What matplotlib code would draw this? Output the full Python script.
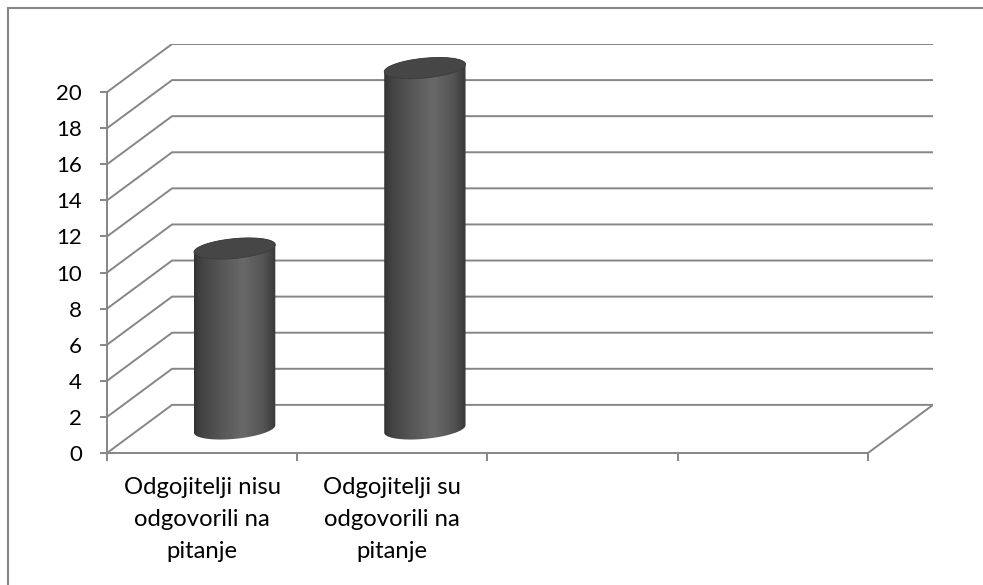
import numpy as np
import matplotlib
matplotlib.use("Agg")
import matplotlib.pyplot as plt
from matplotlib.path import Path
from matplotlib.patches import PathPatch, Rectangle

# ---- data ----
categories = [
    "Odgojitelji nisu\nodgovorili na\npitanje",
    "Odgojitelji su\nodgovorili na\npitanje",
    "",
    "",
]
values = [10, 20, np.nan, np.nan]
y_ticks = list(range(0, 21, 2))

# ---- style ----
GRID = "#868686"
plt.rcParams["font.family"] = ["Lato", "DejaVu Sans"]

W, H = 983, 585
fig = plt.figure(figsize=(W / 100, H / 100), dpi=100)

n = len(categories)
DX = 0.342   # oblique depth offset, category units
DY = 2.667   # oblique depth offset, value units
ymax = y_ticks[-1]

ax = fig.add_axes([107 / W, (H - 453) / H, (933 - 107) / W, (453 - 44) / H])
ax.set_facecolor("none")

# walls: side-wall diagonals + back-wall gridlines
for v in y_ticks:
    ax.plot([0, DX, n + DX], [v, v + DY, v + DY], color=GRID, lw=1.4,
            solid_joinstyle="miter", solid_capstyle="butt", zorder=1)
# right edge of the floor
ax.plot([n, n + DX], [0, DY], color=GRID, lw=1.4, zorder=1)


def cylinder(ax, xc, value, r=0.2, e=0.22):
    """3-D cylinder with oblique projection, centred at mid-depth."""
    cx = xc + DX / 2
    base = DY / 2
    top = value + DY / 2
    ex, ey = e * DX, e * DY
    th0 = np.arctan2(ex, r)
    half_w = np.hypot(r, ex)

    def ell(cy, t):
        return cx + r * np.cos(t) + ex * np.sin(t), cy + ey * np.sin(t)

    tb = np.linspace(th0 + np.pi, th0 + 2 * np.pi, 120)
    tt = np.linspace(th0, th0 + np.pi, 120)
    bx, by = ell(base, tb)
    tx, ty = ell(top, tt)
    xs = np.concatenate([bx, tx])
    ys = np.concatenate([by, ty])
    verts = np.column_stack([xs, ys])
    side = PathPatch(Path(np.vstack([verts, verts[:1]]), closed=True),
                     facecolor="none", edgecolor="none", zorder=3)
    ax.add_patch(side)

    # horizontal shading across the cylinder body
    u = np.linspace(0, 1, 256)
    g = np.interp(u, [0, 0.06, 0.3, 0.6, 0.85, 0.96, 1.0],
                  [0.20, 0.25, 0.33, 0.41, 0.33, 0.25, 0.22])
    img = np.repeat(g[None, :], 2, axis=0)
    im = ax.imshow(img, cmap="gray", vmin=0, vmax=1, aspect="auto",
                   extent=[cx - half_w, cx + half_w, base - ey * 1.2, top + ey * 1.2],
                   origin="lower", interpolation="bilinear", zorder=3)
    im.set_clip_path(side)

    # top cap
    t = np.linspace(0, 2 * np.pi, 200)
    cxs, cys = ell(top, t)
    cap_verts = np.column_stack([cxs, cys])
    ax.add_patch(PathPatch(Path(cap_verts, closed=True), facecolor="#464646",
                           edgecolor="#3c3c3c", lw=0.6, zorder=4))


for i, v in enumerate(values):
    if np.isfinite(v):
        cylinder(ax, i + 0.5, v)

ax.set_xlim(0, n + DX)
ax.set_ylim(0, ymax + DY)

# front axes
for s in ["top", "right"]:
    ax.spines[s].set_visible(False)
ax.spines["left"].set_bounds(0, ymax)
ax.spines["bottom"].set_bounds(0, n)
for s in ["left", "bottom"]:
    ax.spines[s].set_color(GRID)
    ax.spines[s].set_linewidth(1.4)
    ax.spines[s].set_zorder(2)

ax.set_yticks(y_ticks)
ax.set_yticklabels([str(t) for t in y_ticks])
ax.tick_params(axis="y", direction="out", length=5, width=1.4, color=GRID,
               pad=13, labelsize=16, labelcolor="black")

ax.set_xticks(range(n + 1))
ax.set_xticklabels([""] * (n + 1))
ax.tick_params(axis="x", which="major", direction="out", length=5.5, width=1.4,
               color=GRID)
ax.set_xticks([i + 0.5 for i in range(n)], minor=True)
ax.set_xticklabels(categories, minor=True, fontsize=17.2, linespacing=1.66,
                   ha="center", va="top")
ax.tick_params(axis="x", which="minor", length=0, pad=17, labelcolor="black")

# chart border
fig.add_artist(Rectangle((7.5 / W, -0.05), 1.0, (H - 7.5) / H + 0.05,
                         transform=fig.transFigure, fill=False,
                         edgecolor=GRID, lw=1.5))

fig.savefig("out.png", dpi=100, facecolor="white")
